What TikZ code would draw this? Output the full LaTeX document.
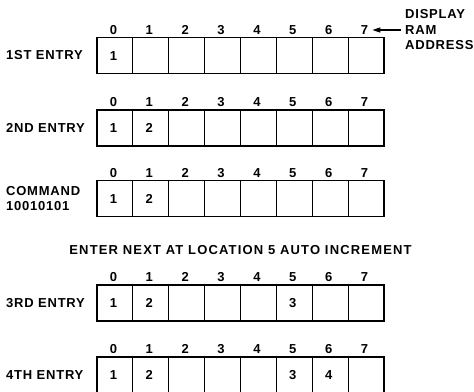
\documentclass[tikz,border=0pt]{standalone}
\usepackage{fontspec}
\setmainfont{Liberation Sans}[LetterSpace=6]
\usetikzlibrary{arrows.meta}
\newcommand\labfnt{\fontsize{13}{15.5}\selectfont\bfseries}
\begin{document}
\begin{tikzpicture}[x=1pt,y=-1pt,
  cell/.style={draw,line width=1.2pt,minimum width=35.875pt,minimum height=36pt,inner sep=0pt,outer sep=0pt,anchor=north west},
  idx/.style={inner sep=0pt,anchor=base,font=\labfnt},
  val/.style={inner sep=0pt,anchor=base,font=\labfnt},
  lbl/.style={inner sep=0pt,anchor=west,align=left,font=\labfnt},
  arr/.style={-{Triangle[length=8pt,width=5pt]},line width=1.2pt}]
\useasboundingbox (0,0) rectangle (474,391);
\clip (0,0) rectangle (474,391);
\foreach \r/\top in {1/37.5,2/110,3/180.5,4/285,5/357}{
  \foreach \c in {0,...,7}{
    \node[cell] (r\r c\c) at ({97+35.875*\c},\top) {};
    \node[idx] (i\r c\c) at ({97+35.875*(\c+0.5)-1.5},{\top-3.5}) {\c};
  }
}
% cell contents
\foreach \r/\c/\t in {1/0/1, 2/0/1, 2/1/2, 3/0/1, 3/1/2, 4/0/1, 4/1/2, 4/5/3, 5/0/1, 5/1/2, 5/5/3, 5/6/4}{
  \node[val] (v\r c\c) at ([xshift=-1.5pt,yshift=-4.5pt]r\r c\c.center) {\t};
}
% row labels
\node[lbl] (l1) at (6,55.5) {1ST ENTRY};
\node[lbl] (l2) at (6,128) {2ND ENTRY};
\node[lbl] (l3) at (6,198.5) {COMMAND\\10010101};
\node[inner sep=0pt,font=\labfnt\addfontfeature{LetterSpace=9}] (enter) at (240.5,250) {ENTER NEXT AT LOCATION 5 AUTO INCREMENT};
\node[lbl] (l4) at (6,303) {3RD ENTRY};
\node[lbl] (l5) at (6,375) {4TH ENTRY};
% address note
\node[lbl] (note) at (405,30) {DISPLAY\\RAM\\ADDRESS};
\draw[arr,shorten <=4pt,shorten >=4pt] (note.west) -- (note.west -| i1c7.east);
\end{tikzpicture}
\end{document}
